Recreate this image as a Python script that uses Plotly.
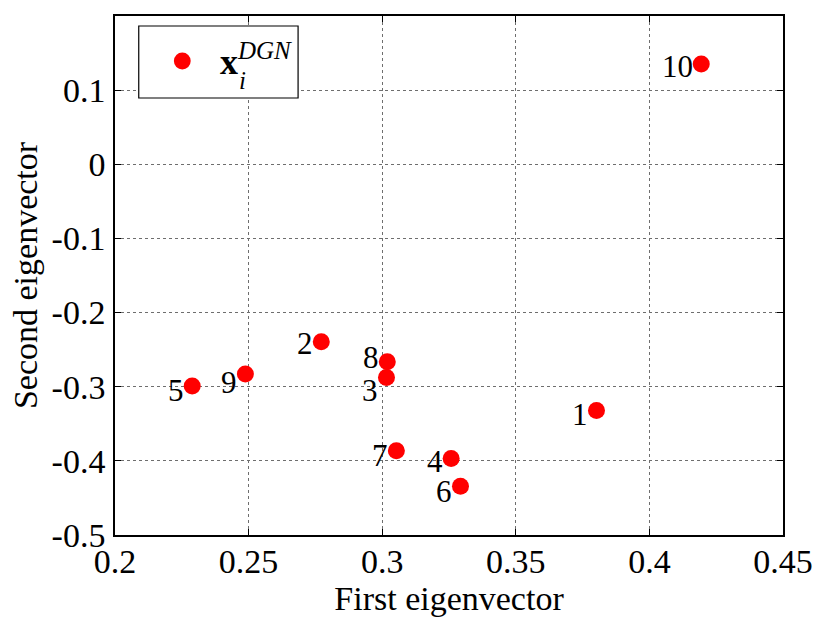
import plotly.graph_objects as go

# Projection of each node onto the first two eigenvectors
node_labels = ["1", "2", "3", "4", "5", "6", "7", "8", "9", "10"]
first_eig = [0.3802, 0.2772, 0.3016, 0.3258, 0.2289, 0.3293, 0.3053, 0.3019, 0.2488, 0.4194]
second_eig = [-0.3322, -0.2392, -0.2876, -0.3967, -0.2990, -0.4343, -0.3864, -0.2662, -0.2830, 0.1354]

x_ticks = [0.2, 0.25, 0.3, 0.35, 0.4, 0.45]
x_tick_text = ["0.2", "0.25", "0.3", "0.35", "0.4", "0.45"]
y_ticks = [0.2, 0.1, 0.0, -0.1, -0.2, -0.3, -0.4, -0.5]
y_tick_text = ["0.2", "0.1", "0", "-0.1", "-0.2", "-0.3", "-0.4", "-0.5"]

# vertical nudge (px) for each node label
label_dy = [-3, -1, -12, -3, -4, -5, -4, 5, -8, -2]

FONT = "Liberation Serif"
FS = 34
LABEL_FS = 31
W, H = 825, 621
L, R, T, B = 115, 35, 16, 86
PW, PH = W - L - R, H - T - B


def px_x(p):
    return (p - L) / PW


def px_y(p):
    return (H - B - p) / PH


fig = go.Figure()
fig.add_trace(go.Scatter(
    x=first_eig, y=second_eig, mode="markers",
    marker=dict(color="#ff0000", size=17, line=dict(width=0)),
    showlegend=False, hoverinfo="x+y",
))

annotations = []
for lab, xv, yv, dy in zip(node_labels, first_eig, second_eig, label_dy):
    annotations.append(dict(
        x=xv, y=yv, xref="x", yref="y", text=lab, showarrow=False,
        xanchor="right", yanchor="middle", xshift=-7, yshift=dy,
        height=26, valign="middle", borderpad=0,
        font=dict(family=FONT, size=LABEL_FS, color="black"),
    ))

# legend entry
shapes = [
    dict(type="rect", xref="paper", yref="paper",
         x0=px_x(139), x1=px_x(300), y0=px_y(98), y1=px_y(26),
         line=dict(color="black", width=1.2), fillcolor="white", layer="above"),
    dict(type="circle", xref="paper", yref="paper",
         x0=px_x(174.5), x1=px_x(191.5), y0=px_y(69.5), y1=px_y(52.5),
         line=dict(width=0), fillcolor="#ff0000", layer="above"),
]
annotations += [
    dict(x=px_x(230), y=px_y(62), xref="paper", yref="paper", text="<b>x</b>",
         showarrow=False, xanchor="center", yanchor="middle",
         font=dict(family=FONT, size=36, color="black")),
    dict(x=px_x(236), y=px_y(50), xref="paper", yref="paper", text="<i>DGN</i>",
         showarrow=False, xanchor="left", yanchor="middle",
         font=dict(family=FONT, size=25, color="black")),
    dict(x=px_x(238), y=px_y(80), xref="paper", yref="paper", text="<i>i</i>",
         showarrow=False, xanchor="left", yanchor="middle",
         font=dict(family=FONT, size=25, color="black")),
]

axis_common = dict(
    showline=True, linecolor="black", linewidth=1.5, mirror="ticks",
    ticks="inside", ticklen=6, tickwidth=1.2, tickcolor="black",
    showgrid=True, gridcolor="#6e6e6e", gridwidth=1, griddash="dot",
    zeroline=False, tickfont=dict(family=FONT, size=FS, color="black"),
    title_font=dict(family=FONT, size=FS, color="black"),
)

fig.update_xaxes(
    range=[0.2, 0.45], tickvals=x_ticks, ticktext=x_tick_text,
    title_text="First eigenvector", title_standoff=0, ticklabelstandoff=-5,
    **axis_common,
)
fig.update_yaxes(
    range=[-0.5, 0.2], tickvals=y_ticks, ticktext=y_tick_text,
    title_text="Second eigenvector", title_standoff=4, ticklabelstandoff=1,
    **axis_common,
)

fig.update_layout(
    width=W, height=H,
    margin=dict(l=L, r=R, t=T, b=B, pad=0),
    paper_bgcolor="white", plot_bgcolor="white",
    font=dict(family=FONT, color="black"),
    shapes=shapes, annotations=annotations,
    showlegend=False,
)

fig.write_html("out.html")
